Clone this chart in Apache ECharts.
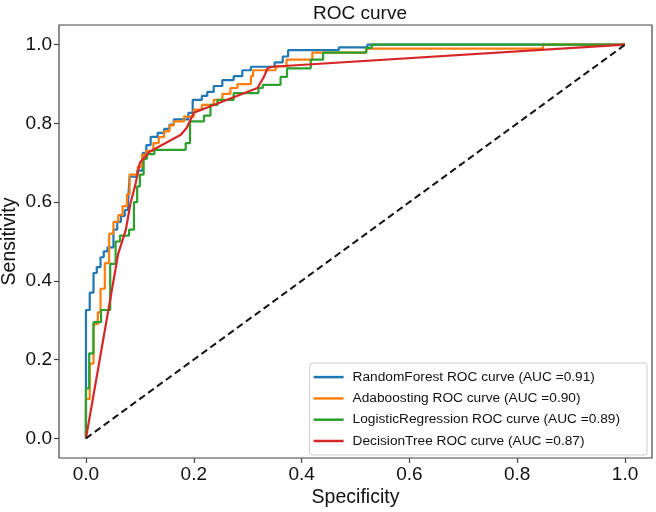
<!DOCTYPE html>
<html><head><meta charset="utf-8">
<script src="https://cdn.jsdelivr.net/npm/echarts@6/dist/echarts.min.js"></script>
<style>html,body{margin:0;padding:0;background:#fff}#c{width:656px;height:512px}</style>
</head><body><div id="c"></div>
<script>
const tickValues = [0, 0.2, 0.4, 0.6, 0.8, 1.0];
const seriesNames = [
  'RandomForest ROC curve (AUC =0.91)',
  'Adaboosting ROC curve (AUC =0.90)',
  'LogisticRegression ROC curve (AUC =0.89)',
  'DecisionTree ROC curve (AUC =0.87)'
];
// [1 - specificity (fpr), sensitivity (tpr)] corner points
const rfPoints = [[0,0],[0,0.326],[0.007,0.326],[0.007,0.37],[0.014,0.37],[0.014,0.42],[0.02,0.42],[0.02,0.435],[0.027,0.435],[0.027,0.46],[0.033,0.46],[0.033,0.475],[0.04,0.475],[0.04,0.485],[0.051,0.485],[0.051,0.53],[0.058,0.53],[0.058,0.55],[0.065,0.55],[0.065,0.565],[0.072,0.565],[0.072,0.58],[0.078,0.58],[0.078,0.6],[0.081,0.6],[0.081,0.665],[0.095,0.665],[0.095,0.68],[0.105,0.68],[0.105,0.725],[0.112,0.725],[0.112,0.745],[0.12,0.745],[0.12,0.766],[0.133,0.766],[0.133,0.776],[0.145,0.776],[0.145,0.786],[0.155,0.786],[0.155,0.797],[0.163,0.797],[0.163,0.81],[0.19,0.81],[0.19,0.827],[0.198,0.827],[0.198,0.86],[0.215,0.86],[0.215,0.87],[0.225,0.87],[0.225,0.88],[0.237,0.88],[0.237,0.895],[0.253,0.895],[0.253,0.91],[0.274,0.91],[0.274,0.92],[0.29,0.92],[0.29,0.935],[0.306,0.935],[0.306,0.944],[0.35,0.944],[0.35,0.955],[0.365,0.955],[0.365,0.97],[0.375,0.97],[0.375,0.986],[0.469,0.986],[0.469,0.993],[0.522,0.993],[0.522,1],[1,1]];
const adaPoints = [[0,0],[0,0.1],[0.007,0.1],[0.007,0.19],[0.014,0.19],[0.014,0.29],[0.022,0.29],[0.022,0.32],[0.027,0.32],[0.027,0.38],[0.035,0.38],[0.035,0.445],[0.043,0.445],[0.043,0.52],[0.051,0.52],[0.051,0.55],[0.06,0.55],[0.06,0.567],[0.068,0.567],[0.068,0.59],[0.076,0.59],[0.076,0.62],[0.081,0.62],[0.081,0.67],[0.096,0.67],[0.096,0.69],[0.104,0.69],[0.104,0.72],[0.112,0.72],[0.112,0.73],[0.125,0.73],[0.125,0.75],[0.135,0.75],[0.135,0.765],[0.145,0.765],[0.145,0.78],[0.155,0.78],[0.155,0.795],[0.163,0.795],[0.163,0.805],[0.182,0.805],[0.182,0.817],[0.2,0.817],[0.2,0.835],[0.215,0.835],[0.215,0.847],[0.237,0.847],[0.237,0.86],[0.253,0.86],[0.253,0.875],[0.268,0.875],[0.268,0.89],[0.281,0.89],[0.281,0.9],[0.306,0.9],[0.306,0.92],[0.31,0.92],[0.31,0.935],[0.352,0.935],[0.352,0.945],[0.372,0.945],[0.372,0.962],[0.42,0.962],[0.42,0.98],[0.52,0.98],[0.52,0.99],[0.848,0.99],[0.848,1],[1,1]];
const lrPoints = [[0,0],[0,0.127],[0.006,0.127],[0.006,0.216],[0.014,0.216],[0.014,0.295],[0.028,0.295],[0.028,0.326],[0.045,0.326],[0.045,0.443],[0.055,0.443],[0.055,0.5],[0.063,0.5],[0.063,0.515],[0.08,0.515],[0.08,0.53],[0.089,0.53],[0.089,0.6],[0.095,0.6],[0.095,0.64],[0.1,0.64],[0.1,0.67],[0.107,0.67],[0.107,0.71],[0.113,0.71],[0.113,0.722],[0.127,0.722],[0.127,0.733],[0.185,0.733],[0.185,0.75],[0.193,0.75],[0.193,0.805],[0.219,0.805],[0.219,0.82],[0.231,0.82],[0.231,0.847],[0.244,0.847],[0.244,0.86],[0.274,0.86],[0.274,0.877],[0.32,0.877],[0.32,0.89],[0.328,0.89],[0.328,0.898],[0.361,0.898],[0.361,0.918],[0.373,0.918],[0.373,0.94],[0.417,0.94],[0.417,0.962],[0.44,0.962],[0.44,0.98],[0.52,0.98],[0.52,0.992],[0.53,0.992],[0.53,1],[1,1]];
const dtPoints = [[0,0],[0.06,0.47],[0.074,0.53],[0.083,0.6],[0.091,0.64],[0.1,0.7],[0.118,0.728],[0.176,0.771],[0.187,0.789],[0.2,0.827],[0.318,0.89],[0.33,0.918],[0.337,0.94],[0.345,0.944],[1,1]];
const chancePoints = [[0,0],[1,1]];
const colors = ['#1f77b4', '#ff7f0e', '#2ca02c', '#d62728'];

const chart = echarts.init(document.getElementById('c'), null, {renderer: 'canvas'});
const FONT = 'Liberation Sans, Arial, Helvetica, sans-serif';
const lineSeries = (name, data, color) => ({
  name, type: 'line', data, showSymbol: false, symbol: 'none',
  lineStyle: {color, width: 2.2}, itemStyle: {color}, animation: false
});
const axisCommon = {
  type: 'value', min: -0.05, max: 1.05,
  nameLocation: 'middle', nameMoveOverlap: false,
  nameTextStyle: {fontFamily: FONT, fontSize: 19.5, color: '#111'},
  axisLine: {show: false, onZero: false}, splitLine: {show: false},
  axisTick: {show: true, customValues: tickValues, length: 5, inside: false, lineStyle: {color: '#444', width: 1.2}},
  axisLabel: {customValues: tickValues, formatter: v => v.toFixed(1), fontFamily: FONT, fontSize: 19, color: '#111', margin: 7}
};
chart.setOption({
  animation: false,
  backgroundColor: '#fff',
  title: {
    text: 'ROC curve', left: 355, top: -1, textAlign: 'center',
    textStyle: {fontFamily: FONT, fontSize: 19, fontWeight: 'normal', color: '#111'}
  },
  grid: {left: 59, right: 4, top: 25, bottom: 54, outerBoundsMode: 'none', containLabel: false,
         show: true, borderColor: '#444', borderWidth: 1.2, backgroundColor: '#fff'},
  legend: {
    data: seriesNames, orient: 'vertical', right: 9, bottom: 57,
    icon: 'rect', itemWidth: 30, itemHeight: 2.5, itemGap: 7.3,
    padding: [7, 27, 7, 4],
    backgroundColor: '#fff', borderColor: '#ccc', borderWidth: 1, borderRadius: 3,
    textStyle: {fontFamily: FONT, fontSize: 13.7, color: '#111', lineHeight: 14, padding: [0,0,0,4]}
  },
  xAxis: Object.assign({}, axisCommon, {name: 'Specificity', nameGap: 30}),
  yAxis: Object.assign({}, axisCommon, {name: 'Sensitivity', nameGap: 39, nameRotate: 90}),
  series: [
    lineSeries(seriesNames[0], rfPoints, colors[0]),
    lineSeries(seriesNames[1], adaPoints, colors[1]),
    lineSeries(seriesNames[2], lrPoints, colors[2]),
    lineSeries(seriesNames[3], dtPoints, colors[3]),
    {name: 'chance', type: 'line', data: chancePoints, showSymbol: false, symbol: 'none',
     lineStyle: {color: '#111', width: 2, type: [7, 4]}, z: 5}
  ]
});
</script></body></html>
